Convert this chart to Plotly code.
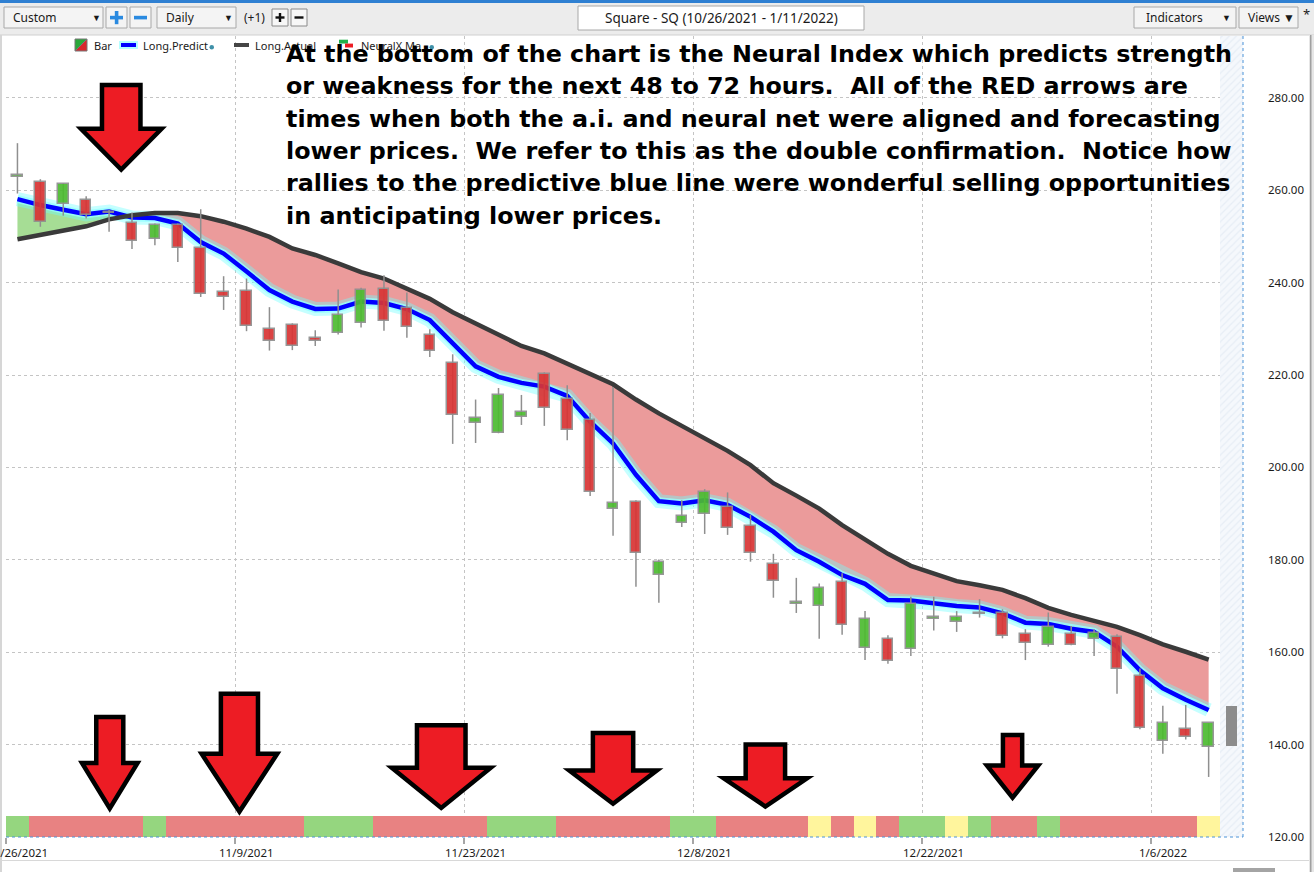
import numpy as np
import plotly.graph_objects as go

# one entry per trading day, index 0 = 10/26/2021 ... index 52 = 1/10/2022
opens = [262.9, 261.9, 257.1, 257.9, 255.0, 253.0, 249.4, 252.5, 247.6, 237.9,
         238.2, 229.9, 230.9, 228.1, 229.0, 231.2, 238.7, 234.6, 228.6, 222.7,
         209.7, 207.4, 211.0, 220.3, 214.9, 210.2, 191.1, 192.6, 176.8, 187.9,
         190.0, 191.5, 187.4, 179.0, 170.5, 169.9, 175.3, 161.0, 162.9, 160.8,
         167.2, 166.5, 168.2, 168.4, 164.0, 161.5, 164.0, 162.8, 163.4, 154.9,
         140.7, 143.3, 139.5]
highs = [270.2, 262.4, 261.5, 258.7, 255.8, 255.2, 252.8, 252.8, 255.9, 241.4,
         240.9, 234.7, 231.2, 229.7, 238.5, 238.9, 241.6, 237.9, 229.9, 224.5,
         214.7, 217.2, 215.7, 220.6, 217.8, 211.8, 217.4, 192.9, 180.1, 192.9,
         195.3, 194.6, 189.7, 181.3, 176.1, 174.9, 177.1, 168.9, 163.7, 172.0,
         172.0, 168.9, 171.5, 169.3, 165.0, 168.6, 165.7, 165.0, 163.9, 156.5,
         148.4, 148.6, 144.6]
lows = [259.3, 252.1, 254.5, 253.9, 251.0, 247.3, 248.1, 244.5, 236.9, 234.1,
        229.5, 225.3, 225.4, 226.3, 228.8, 230.3, 229.6, 228.1, 223.9, 205.1,
        205.3, 207.4, 209.2, 209.0, 205.9, 193.8, 185.2, 174.2, 170.7, 187.1,
        185.6, 185.4, 179.6, 171.8, 168.5, 162.9, 163.8, 158.3, 157.5, 159.2,
        164.7, 164.4, 167.5, 163.0, 158.3, 161.2, 161.5, 159.2, 151.0, 143.3,
        138.0, 141.1, 133.0]
closes = [263.3, 253.1, 261.3, 254.6, 255.2, 249.0, 252.4, 247.5, 237.5, 236.8,
          230.7, 227.4, 226.4, 227.3, 232.9, 238.5, 231.8, 230.3, 225.2, 211.3,
          210.6, 215.6, 212.1, 212.8, 208.2, 194.6, 192.2, 181.4, 179.6, 189.4,
          194.7, 186.8, 181.4, 175.5, 170.9, 173.8, 165.8, 167.1, 158.2, 170.5,
          167.4, 167.7, 168.4, 163.6, 161.9, 165.4, 161.5, 164.1, 156.3, 143.5,
          144.6, 141.6, 144.6]
# 1/11/2022 bar still forming (drawn grey)
last_bar_low, last_bar_high = 139.8, 148.4

long_predict = [258.1, 256.8, 255.8, 254.8, 255.4, 254.1, 254.0, 252.8, 248.8, 246.3,
                242.4, 238.4, 235.9, 234.3, 234.4, 235.9, 235.6, 234.3, 231.9, 226.9,
                221.9, 219.6, 218.3, 217.5, 215.5, 209.9, 205.2, 198.4, 192.7, 192.2,
                192.9, 191.9, 189.3, 186.1, 182.1, 179.6, 176.7, 174.8, 171.3, 171.2,
                170.6, 170.0, 169.7, 168.4, 166.4, 166.1, 165.1, 164.4, 161.2, 156.1,
                152.2, 149.7, 147.5]
long_actual = [249.4, 250.3, 251.2, 252.2, 253.7, 254.6, 255.1, 255.1, 254.4, 253.2,
               251.7, 249.9, 247.4, 246.0, 244.2, 242.3, 240.9, 238.6, 236.5, 233.6,
               231.2, 228.8, 226.3, 224.7, 222.5, 220.4, 218.0, 214.7, 211.7, 209.0,
               206.3, 203.6, 200.5, 196.6, 193.9, 191.1, 187.5, 184.4, 181.3, 178.7,
               177.1, 175.4, 174.5, 173.5, 171.7, 169.6, 168.1, 166.8, 165.5, 163.7,
               161.7, 160.1, 158.4]

# neural index per day: G = strength, R = weakness, Y = neutral
neural = list("GRRRRRGRRRRRRGGGRRRRRGGGRRRRRGGRRRRYRYRGGYGRRGRRRRRRY")

tick_idx = [0, 10, 20, 30, 40, 50]
tick_labels = ["10/26/2021", "11/9/2021", "11/23/2021", "12/8/2021", "12/22/2021", "1/6/2022"]
price_ticks = [120, 140, 160, 180, 200, 220, 240, 260, 280]

note_lines = [
    "At the bottom of the chart is the Neural Index which predicts strength",
    "or weakness for the next 48 to 72 hours.  All of the RED arrows are",
    "times when both the a.i. and neural net were aligned and forecasting",
    "lower prices.  We refer to this as the double confirmation.  Notice how",
    "rallies to the predictive blue line were wonderful selling opportunities",
    "in anticipating lower prices.",
]

# red arrows: (tip x, tip price, head half width, shaft half width, shoulder price, top price)
arrows = [
    (4.53, 264.5, 1.76, 0.84, 273.3, 282.8),
    (4.03, 126.2, 1.21, 0.59, 136.0, 146.0),
    (9.69, 125.5, 1.65, 0.81, 138.0, 151.0),
    (18.5, 126.3, 2.16, 1.06, 135.0, 144.2),
    (26.0, 127.2, 1.91, 0.88, 134.4, 142.5),
    (32.65, 126.6, 1.82, 0.86, 132.7, 140.0),
    (43.44, 128.5, 1.12, 0.42, 135.5, 142.1),
]

W, H = 1314, 872
L, R, T, B = 6, 1243, 36, 837
Y_TOP = 293.4


def px(x):
    return (x - L) / (R - L)


def py(y):
    return (B - y) / (B - T)


n = len(closes)
idx = np.arange(n)
o, h, lo, c = map(np.array, (opens, highs, lows, closes))
p = np.array(long_predict)
a = np.array(long_actual)

# split the area between the two lines where they cross
xs, ps, as_ = [], [], []
for i in range(n):
    xs.append(i); ps.append(p[i]); as_.append(a[i])
    if i < n - 1:
        d0, d1 = a[i] - p[i], a[i + 1] - p[i + 1]
        if d0 * d1 < 0:
            t = d0 / (d0 - d1)
            xs.append(i + t)
            ps.append(p[i] + t * (p[i + 1] - p[i]))
            as_.append(a[i] + t * (a[i + 1] - a[i]))
xs, ps, as_ = np.array(xs), np.array(ps), np.array(as_)
top = np.maximum(ps, as_)

fig = go.Figure()

# future zone
fig.add_trace(go.Bar(x=[n], y=[Y_TOP - 120], base=[120], width=1,
                     marker=dict(color="#f5f8fc", line_width=0,
                                 pattern=dict(shape="/", fgcolor="#d9e2ee", size=5, solidity=0.25)),
                     hoverinfo="skip", showlegend=False))

# fills
fig.add_trace(go.Scatter(x=xs, y=ps, mode="lines", line_width=0, hoverinfo="skip", showlegend=False))
fig.add_trace(go.Scatter(x=xs, y=top, mode="lines", line_width=0, fill="tonexty",
                         fillcolor="#eb9b9b", hoverinfo="skip", showlegend=False))
fig.add_trace(go.Scatter(x=xs, y=as_, mode="lines", line_width=0, hoverinfo="skip", showlegend=False))
fig.add_trace(go.Scatter(x=xs, y=top, mode="lines", line_width=0, fill="tonexty",
                         fillcolor="#a6dd95", hoverinfo="skip", showlegend=False))

# Long.Predict with glow, Long.Actual
fig.add_trace(go.Scatter(x=idx, y=p, mode="lines", line=dict(color="rgba(110,255,255,0.4)", width=14),
                         hoverinfo="skip", showlegend=False))
fig.add_trace(go.Scatter(x=idx, y=p, mode="lines", line=dict(color="rgba(150,255,255,0.8)", width=8),
                         hoverinfo="skip", showlegend=False))
fig.add_trace(go.Scatter(x=idx, y=p, mode="lines", line=dict(color="#0000ff", width=4.5),
                         name="Long.Predict", showlegend=False))
fig.add_trace(go.Scatter(x=idx, y=a, mode="lines", line=dict(color="#3a3a3a", width=4.5),
                         name="Long.Actual", showlegend=False))

# wicks
wx, wy = [], []
for i in range(n):
    wx += [i, i, None]
    wy += [lo[i], h[i], None]
fig.add_trace(go.Scatter(x=wx, y=wy, mode="lines", line=dict(color="#8f8f8f", width=1.5),
                         hoverinfo="skip", showlegend=False))

# candle bodies on an overlay subplot so they sit above the lines
up = c >= o
body_base = np.minimum(o, c)
body_h = np.maximum(np.abs(c - o), 0.35)
for mask, col in ((~up, "#d93434"), (up, "#4dbb30")):
    fig.add_trace(go.Bar(x=idx[mask], y=body_h[mask], base=body_base[mask], width=0.46,
                         marker=dict(color=col, line=dict(color="#8f8f8f", width=1.5)),
                         opacity=0.92, xaxis="x2", yaxis="y2", showlegend=False))
fig.add_trace(go.Bar(x=[n], y=[last_bar_high - last_bar_low], base=[last_bar_low], width=0.48,
                     marker=dict(color="#8c8c8c", line_width=0), xaxis="x2", yaxis="y2",
                     showlegend=False))

# neural index strip
ncol = {"G": "#95d67f", "R": "#e88282", "Y": "#fff59d"}
fig.add_trace(go.Bar(x=idx, y=[4.5] * n, base=[120] * n, width=1,
                     marker=dict(color=[ncol[v] for v in neural], line_width=0),
                     xaxis="x2", yaxis="y2", hoverinfo="skip", showlegend=False))

shapes = []
for (cx, tip, hw, sw, sh, tp) in arrows:
    path = (f"M {cx - sw},{tp} L {cx + sw},{tp} L {cx + sw},{sh} L {cx + hw},{sh} "
            f"L {cx},{tip} L {cx - hw},{sh} L {cx - sw},{sh} Z")
    shapes.append(dict(type="path", path=path, xref="x", yref="y", fillcolor="#ed1c24",
                       line=dict(color="black", width=4.5), layer="above"))

# plot frame (dotted blue right/bottom)
shapes.append(dict(type="line", xref="paper", yref="paper", x0=0, x1=1, y0=0, y1=0,
                   line=dict(color="#4a93d8", width=1, dash="dot"), layer="above"))
shapes.append(dict(type="line", xref="paper", yref="paper", x0=1, x1=1, y0=0, y1=1,
                   line=dict(color="#4a93d8", width=1, dash="dot"), layer="above"))


def rect(x0, y0, x1, y1, fill, line=None, lw=1):
    shapes.append(dict(type="rect", xref="paper", yref="paper", x0=px(x0), x1=px(x1),
                       y0=py(y1), y1=py(y0), fillcolor=fill,
                       line=dict(color=line or fill, width=lw if line else 0), layer="above"))


annots = []


def label(x, y, text, size=12, color="#1a1a1a", anchor="left", family="Noto Sans", weight="normal"):
    annots.append(dict(x=px(x), y=py(y), xref="paper", yref="paper", text=text, showarrow=False,
                       xanchor=anchor, yanchor="middle",
                       font=dict(family=family, size=size, color=color, weight=weight)))


# toolbar
rect(0, 0, W, 35, "#ececec")
rect(0, 0, W, 3, "#2f80d2")
rect(0, 34.5, W, 35.5, "#cfcfcf")
rect(4, 7, 103, 28, "#f4f4f4", "#a8a8a8")
label(11, 17.5, "Custom", 12)
label(96, 17.5, "▼", 9, anchor="center")
for bx in (106, 130):
    rect(bx, 7, bx + 21, 28, "#f4f4f4", "#a8a8a8")
    rect(bx + 4, 15.8, bx + 17, 19.4, "#2a8ae0")
rect(110 + 4.8, 11, 110 + 8.4, 24.2, "#2a8ae0")
rect(157, 7, 236, 28, "#f4f4f4", "#a8a8a8")
label(164, 17.5, "Daily", 12)
label(228, 17.5, "▼", 9, anchor="center")
label(242, 17.5, "(+1)", 12)
for bx in (272, 291):
    rect(bx, 9, bx + 16, 26, "#f7f7f7", "#8a8a8a")
    rect(bx + 3.5, 16.3, bx + 12.5, 18.7, "#111111")
rect(278.8, 13, 281.2, 22, "#111111")
rect(578, 6, 864, 30, "#ffffff", "#a8a8a8")
label(721, 18, "Square - SQ (10/26/2021 - 1/11/2022)", 13.5, anchor="center")
rect(1134, 7, 1236, 28, "#f4f4f4", "#a8a8a8")
label(1144, 17.5, "Indicators", 12)
label(1226, 17.5, "▼", 9, anchor="center")
rect(1239, 7, 1298, 28, "#f4f4f4", "#a8a8a8")
label(1246, 17.5, "Views ▼", 12)
label(1301, 14, "*", 13)

# window edges
rect(0, 35, 2, H, "#d6d6d6")
rect(1309, 35, W, H, "#e6e6e6")
rect(1310, 35, 1311.5, H, "#a0a0a0")
rect(0, 860, 1309, 861, "#d8d8d8")
rect(1233, 868, 1275, H, "#a4a4a4")

# legend row
shapes.append(dict(type="path", xref="paper", yref="paper", layer="above",
                   path=f"M {px(75)},{py(39)} L {px(87)},{py(39)} L {px(75)},{py(51)} Z",
                   fillcolor="#2aa83a", line=dict(color="#777", width=1)))
shapes.append(dict(type="path", xref="paper", yref="paper", layer="above",
                   path=f"M {px(87)},{py(39)} L {px(87)},{py(51)} L {px(75)},{py(51)} Z",
                   fillcolor="#d9262b", line=dict(color="#777", width=1)))
label(92, 45, "Bar", 11)
rect(119, 41, 138, 49, "rgba(150,255,255,0.7)")
rect(121, 43, 136, 47, "#0000ff")
label(141, 45, "Long.Predict", 11)
shapes.append(dict(type="circle", xref="paper", yref="paper", x0=px(209.5), x1=px(214),
                   y0=py(49.5), y1=py(45), fillcolor="#3f90a8", line_width=0, layer="above"))
rect(234, 43, 249, 47, "#454545")
label(253, 45, "Long.Actual", 11)
rect(339, 39.7, 348, 43.6, "#22b14c")
rect(345, 43.6, 353, 47.5, "#ed1c24")
label(359, 45, "NeuralX Ma", 11)
shapes.append(dict(type="circle", xref="paper", yref="paper", x0=px(429.5), x1=px(434),
                   y0=py(49.5), y1=py(45), fillcolor="#3f90a8", line_width=0, layer="above"))

# date labels under the strip
for i, t in zip(tick_idx, tick_labels):
    annots.append(dict(x=i, y=py(852), xref="x", yref="paper", text=t, showarrow=False,
                       xanchor="center", yanchor="middle",
                       font=dict(family="Noto Sans", size=11.5, color="#1a1a1a")))

# commentary
baselines = [62.3, 94.6, 127.0, 159.4, 191.8, 224.2]
for line, base in zip(note_lines, baselines):
    label(284, base - 8.5, line.replace("  ", " \u00a0"), 23.8, color="#000000",
          family="DejaVu Sans", weight="bold")

fig.update_layout(
    width=W, height=H, autosize=False,
    margin=dict(l=L, r=W - R, t=T, b=H - B),
    paper_bgcolor="white", plot_bgcolor="white",
    barmode="overlay", bargap=0,
    showlegend=False,
    shapes=shapes, annotations=annots,
    xaxis=dict(range=[-0.5, n + 0.5], tickvals=[v - 0.5 for v in tick_idx], showticklabels=False,
               ticks="outside", ticklen=6, tickwidth=2, tickcolor="#a6a6a6",
               showgrid=True, gridcolor="#c4c4c4", griddash="dot", gridwidth=1,
               zeroline=False, showline=False, automargin=False, fixedrange=True),
    yaxis=dict(range=[120, Y_TOP], side="right", tickvals=price_ticks,
               ticktext=[f"{v:.2f}" for v in price_ticks], ticks="", ticklabelstandoff=24,
               tickfont=dict(family="Noto Sans", size=11.5, color="#1a1a1a"),
               showgrid=True, gridcolor="#c4c4c4", griddash="dot", gridwidth=1,
               zeroline=False, showline=False, automargin=False, fixedrange=True),
    xaxis2=dict(range=[-0.5, n + 0.5], overlaying="x", visible=False, fixedrange=True),
    yaxis2=dict(range=[120, Y_TOP], overlaying="y", visible=False, fixedrange=True),
)

# page body has a default 8px margin; remove it so the figure fills the window
fig.write_html("out.html", config={"displayModeBar": False},
               post_script="document.body.style.margin='0';")
